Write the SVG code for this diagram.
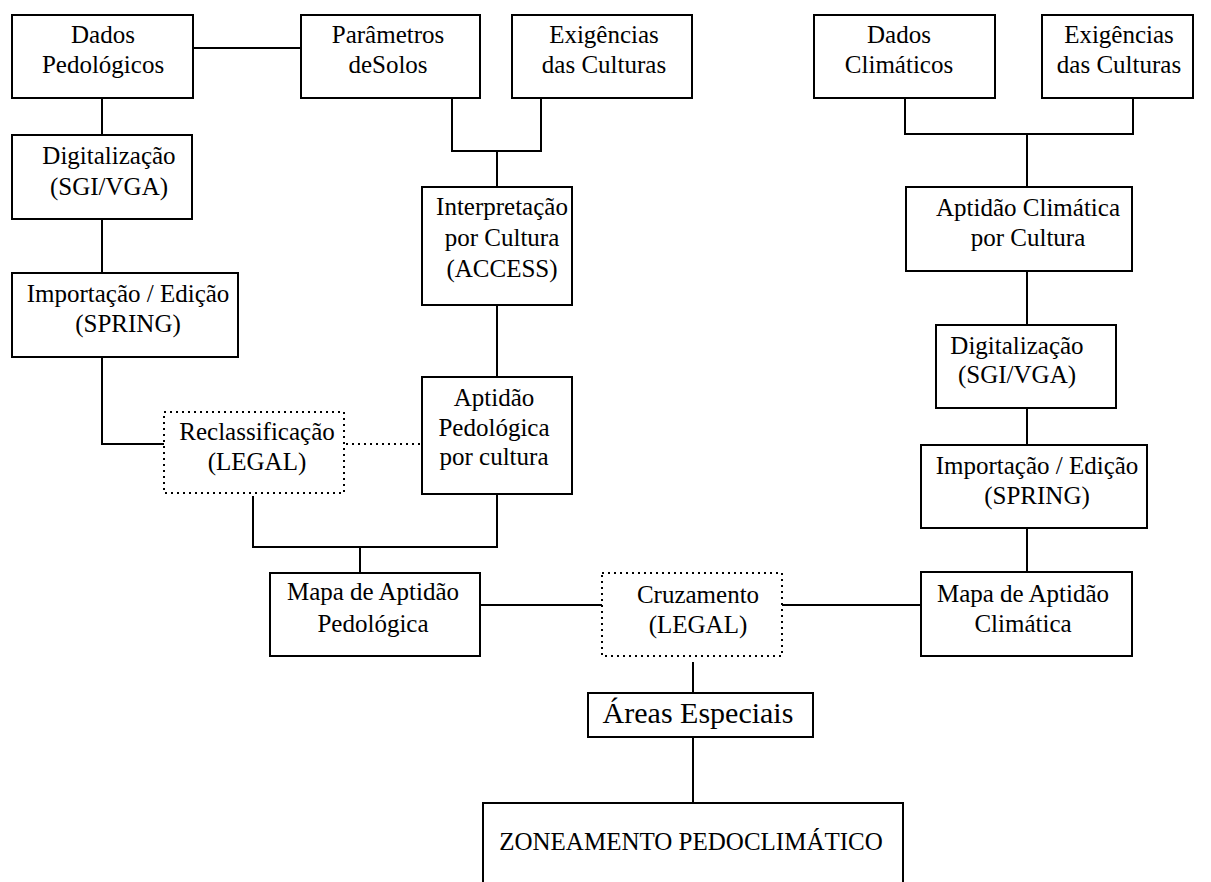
<svg xmlns="http://www.w3.org/2000/svg" width="1211" height="882" viewBox="0 0 1211 882">
<style>
.box{fill:#fff;stroke:#000;stroke-width:2}
.dot{fill:#fff;stroke:#000;stroke-width:2;stroke-dasharray:2 4}
.ln{fill:none;stroke:#000;stroke-width:2}
.dl{fill:none;stroke:#000;stroke-width:2;stroke-dasharray:2 4}
text{font-family:"Liberation Serif","Times New Roman",serif;font-size:25px;fill:#000;text-anchor:middle}
.big{font-size:30px}
</style>
<rect width="1211" height="882" fill="#fff"/>
<g id="connectors">
<path class="ln" d="M193,48 H301"/>
<path class="ln" d="M102,98 V135"/>
<path class="ln" d="M102,219 V273"/>
<path class="ln" d="M102,357 V444 H164"/>
<path class="dl" d="M346,444 H422"/>
<path class="ln" d="M452,98 V151 H541 V98"/>
<path class="ln" d="M497,151 V187"/>
<path class="ln" d="M497,305 V377"/>
<path class="ln" d="M253,496 V547 H497 V494"/>
<path class="ln" d="M360,547 V573"/>
<path class="ln" d="M480,605 H602"/>
<path class="ln" d="M782,605 H921"/>
<path class="ln" d="M905,98 V134 H1133 V98"/>
<path class="ln" d="M1027,134 V187"/>
<path class="ln" d="M1027,271 V325"/>
<path class="ln" d="M1027,408 V445"/>
<path class="ln" d="M1027,528 V572"/>
<path class="ln" d="M693,662 V693"/>
<path class="ln" d="M693,737 V803"/>
</g>
<g id="dados-pedologicos"><rect class="box" x="12" y="15" width="181" height="83"/><text x="103" y="43">Dados</text><text x="103" y="73">Pedológicos</text></g>
<g id="parametros-solos"><rect class="box" x="301" y="15" width="179" height="83"/><text x="388" y="43">Parâmetros</text><text x="388" y="73">deSolos</text></g>
<g id="exigencias-culturas-1"><rect class="box" x="512" y="15" width="180" height="83"/><text x="604" y="43">Exigências</text><text x="604" y="73">das Culturas</text></g>
<g id="dados-climaticos"><rect class="box" x="814" y="15" width="181" height="83"/><text x="899" y="43">Dados</text><text x="899" y="73">Climáticos</text></g>
<g id="exigencias-culturas-2"><rect class="box" x="1042" y="15" width="151" height="83"/><text x="1119" y="43">Exigências</text><text x="1119" y="73">das Culturas</text></g>
<g id="digitalizacao-1"><rect class="box" x="12" y="135" width="180" height="84"/><text x="109" y="164">Digitalização</text><text x="109" y="195">(SGI/VGA)</text></g>
<g id="importacao-1"><rect class="box" x="12" y="273" width="226" height="84"/><text x="128" y="302">Importação / Edição</text><text x="128" y="332">(SPRING)</text></g>
<g id="reclassificacao"><rect class="dot" x="164" y="412" width="180" height="81"/><text x="257" y="440">Reclassificação</text><text x="257" y="470">(LEGAL)</text></g>
<g id="interpretacao"><rect class="box" x="422" y="187" width="150" height="118"/><text x="502" y="215">Interpretação</text><text x="502" y="246">por Cultura</text><text x="502" y="277">(ACCESS)</text></g>
<g id="aptidao-pedologica"><rect class="box" x="422" y="377" width="150" height="117"/><text x="494" y="406">Aptidão</text><text x="494" y="436">Pedológica</text><text x="494" y="465">por cultura</text></g>
<g id="mapa-pedologica"><rect class="box" x="270" y="573" width="210" height="83"/><text x="373" y="600">Mapa de Aptidão</text><text x="373" y="632">Pedológica</text></g>
<g id="cruzamento"><rect class="dot" x="602" y="573" width="180" height="83"/><text x="698" y="603">Cruzamento</text><text x="698" y="633">(LEGAL)</text></g>
<g id="aptidao-climatica"><rect class="box" x="906" y="187" width="226" height="84"/><text x="1028" y="216">Aptidão Climática</text><text x="1028" y="246">por Cultura</text></g>
<g id="digitalizacao-2"><rect class="box" x="936" y="325" width="180" height="83"/><text x="1017" y="354">Digitalização</text><text x="1017" y="383">(SGI/VGA)</text></g>
<g id="importacao-2"><rect class="box" x="921" y="445" width="226" height="83"/><text x="1037" y="474">Importação / Edição</text><text x="1037" y="504">(SPRING)</text></g>
<g id="mapa-climatica"><rect class="box" x="921" y="572" width="211" height="84"/><text x="1023" y="602">Mapa de Aptidão</text><text x="1023" y="632">Climática</text></g>
<g id="areas-especiais"><rect class="box" x="588" y="693" width="225" height="44"/><text class="big" x="698" y="723">Áreas Especiais</text></g>
<g id="zoneamento"><rect class="box" x="483" y="803" width="420" height="90"/><text x="691" y="850">ZONEAMENTO PEDOCLIMÁTICO</text></g>
</svg>
